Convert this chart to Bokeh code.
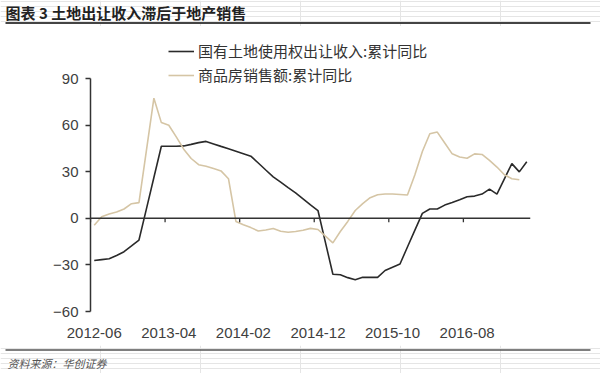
from bokeh.plotting import figure
from bokeh.models import Legend, LegendItem, Label, Span, FixedTicker, BoxAnnotation
from bokeh.layouts import column
from bokeh.embed import file_html
from bokeh.resources import INLINE

# ---------------- data ----------------
months = [
    "2012-06", "2012-07", "2012-08", "2012-09", "2012-10", "2012-11", "2012-12",
    "2013-01", "2013-02", "2013-03", "2013-04", "2013-05", "2013-06", "2013-07",
    "2013-08", "2013-09", "2013-10", "2013-11", "2013-12",
    "2014-01", "2014-02", "2014-03", "2014-04", "2014-05", "2014-06", "2014-07",
    "2014-08", "2014-09", "2014-10", "2014-11", "2014-12",
    "2015-01", "2015-02", "2015-03", "2015-04", "2015-05", "2015-06", "2015-07",
    "2015-08", "2015-09", "2015-10", "2015-11", "2015-12",
    "2016-01", "2016-02", "2016-03", "2016-04", "2016-05", "2016-06", "2016-07",
    "2016-08", "2016-09", "2016-10", "2016-11", "2016-12",
    "2017-01", "2017-02", "2017-03", "2017-04",
]

land_yoy = [
    -27.2, -26.6, -26.0, -24.0, -21.5, -17.8, -14.0, 6.1, 26.3, 46.4,
    46.4, 46.4, 46.6, 47.6, 48.7, 49.5, 47.9, 46.3, 44.8, 43.2,
    41.6, 40.0, 35.6, 31.1, 26.7, 23.3, 19.8, 16.4, 12.5, 8.6,
    5.0, -15.5, -36.0, -36.3, -38.2, -39.5, -38.0, -38.0, -38.0, -33.6,
    -31.5, -29.4, -18.5, -7.6, 3.2, 6.0, 6.0, 8.5, 10.2, 12.0,
    13.9, 14.3, 15.6, 18.8, 15.6, 25.4, 35.2, 29.9, 36.4,
]

sales_yoy = [
    -4.5, 1.0, 2.8, 4.0, 6.0, 9.4, 10.1, 43.7, 77.3, 61.6,
    59.9, 52.4, 44.5, 38.5, 34.5, 33.5, 32.0, 30.5, 25.5, -2.0,
    -4.2, -6.0, -8.2, -7.5, -6.6, -8.3, -9.0, -8.5, -7.7, -6.5,
    -7.2, -11.5, -15.8, -8.5, -2.0, 5.0, 9.5, 13.3, 15.2, 15.6,
    15.6, 15.3, 15.0, 28.0, 43.0, 54.4, 55.5, 48.5, 41.5, 39.5,
    38.7, 41.5, 41.1, 37.3, 33.0, 28.0, 25.5, 24.8,
]

xtick_labels = ["2012-06", "2013-04", "2014-02", "2014-12", "2015-10", "2016-08"]
yticks = [-60, -30, 0, 30, 60, 90]

series_names = ["国有土地使用权出让收入:累计同比", "商品房销售额:累计同比"]
title_text = "图表 3  土地出让收入滞后于地产销售"
source_text = "资料来源：华创证券"

W = 600
CJK = "Noto Sans CJK SC"

# ---------------- header (title + rule) ----------------
HH = 26
head = figure(width=W, height=HH, output_backend="svg", toolbar_location=None,
              x_range=(0, W), y_range=(0, HH), min_border=0, title=None,
              x_axis_location=None, y_axis_location=None, frame_align=False)
head.outline_line_color = None
head.add_layout(Label(x=5, y=HH - 11.5, text=title_text, text_font=CJK,
                      text_font_size="15px", text_font_style="bold",
                      text_color="#222222", text_baseline="middle"))
head.add_layout(BoxAnnotation(left=5, right=590, top=HH - 21.5, bottom=HH - 23.5,
                              fill_color="#444444", fill_alpha=1.0, line_color=None))

# ---------------- main chart ----------------
MH = 319
BL, BR, BB = 90, 70, 34
frame_h = MH - BB                       # frame spans page y 26 .. 311
y90_from_top = 52                       # pixel offset of the "90" tick from frame top
px_per_unit = (frame_h - y90_from_top) / (yticks[-1] - yticks[0])
y_top = yticks[-1] + y90_from_top / px_per_unit

p = figure(width=W, height=MH, output_backend="svg", toolbar_location=None,
           x_range=(-0.5, len(months) - 0.5), y_range=(yticks[0], y_top),
           min_border_left=BL, min_border_right=BR, min_border_top=0,
           min_border_bottom=BB, title=None, frame_align=False)
p.outline_line_color = None
p.xgrid.visible = False
p.ygrid.visible = False

xs_land = list(range(len(land_yoy)))
xs_sales = list(range(len(sales_yoy)))

r_land = p.line(xs_land, land_yoy, line_color="#2a2a2a", line_width=1.6)
r_sales = p.line(xs_sales, sales_yoy, line_color="#d5c5a5", line_width=1.6)

# zero line with tick marks between categories
p.add_layout(Span(location=0, dimension="width", line_color="#333333", line_width=1.5))
tick_pos = [months.index(l) - 0.5 for l in xtick_labels]
p.segment(x0=tick_pos, y0=[0] * len(tick_pos), x1=tick_pos, y1=[-2.6] * len(tick_pos),
          line_color="#333333", line_width=1.3)

# y axis
p.yaxis.ticker = FixedTicker(ticks=yticks)
p.yaxis.bounds = (yticks[0], yticks[-1])
p.yaxis.axis_line_color = "#333333"
p.yaxis.axis_line_width = 1.5
p.yaxis.major_tick_line_color = "#333333"
p.yaxis.major_tick_line_width = 1.5
p.yaxis.major_tick_out = 5
p.yaxis.major_tick_in = 0
p.yaxis.minor_tick_line_color = None
p.yaxis.major_label_standoff = 7
p.yaxis.major_label_text_font = "Liberation Sans"
p.yaxis.major_label_text_font_size = "15px"
p.yaxis.major_label_text_color = "#404040"

# x axis (labels only)
xt = [months.index(l) for l in xtick_labels]
p.xaxis.ticker = FixedTicker(ticks=xt)
p.xaxis.major_label_overrides = {i: l for i, l in zip(xt, xtick_labels)}
p.xaxis.axis_line_color = None
p.xaxis.major_tick_line_color = None
p.xaxis.minor_tick_line_color = None
p.xaxis.major_label_standoff = 10
p.xaxis.major_label_text_font = "Liberation Sans"
p.xaxis.major_label_text_font_size = "15px"
p.xaxis.major_label_text_color = "#404040"

# legend (inside the frame, above the y-axis top); location = bottom-left corner
legend = Legend(items=[LegendItem(label=series_names[0], renderers=[r_land]),
                       LegendItem(label=series_names[1], renderers=[r_sales])],
                location=(78, frame_h - 60.7),
                border_line_color=None, background_fill_alpha=0,
                padding=0, margin=0, spacing=0,
                glyph_width=26, glyph_height=24, label_height=24,
                label_standoff=4,
                label_text_font=CJK,
                label_text_font_size="15px", label_text_color="#333333")
p.add_layout(legend)

# ---------------- footer (rule + source) ----------------
FH = 28
foot = figure(width=W, height=FH, output_backend="svg", toolbar_location=None,
              x_range=(0, W), y_range=(0, FH), min_border=0, title=None,
              x_axis_location=None, y_axis_location=None, frame_align=False)
foot.outline_line_color = None
foot.add_layout(BoxAnnotation(left=5, right=590, top=FH - 3.75, bottom=FH - 5.25,
                              fill_color="#555555", fill_alpha=1.0, line_color=None))
foot.add_layout(Label(x=7, y=FH - 17, text=source_text, text_font=CJK,
                      text_font_size="11px", text_font_style="italic",
                      text_color="#555555", text_baseline="middle"))

layout = column(head, p, foot, spacing=0)

open("out.html", "w").write(file_html(layout, INLINE))
